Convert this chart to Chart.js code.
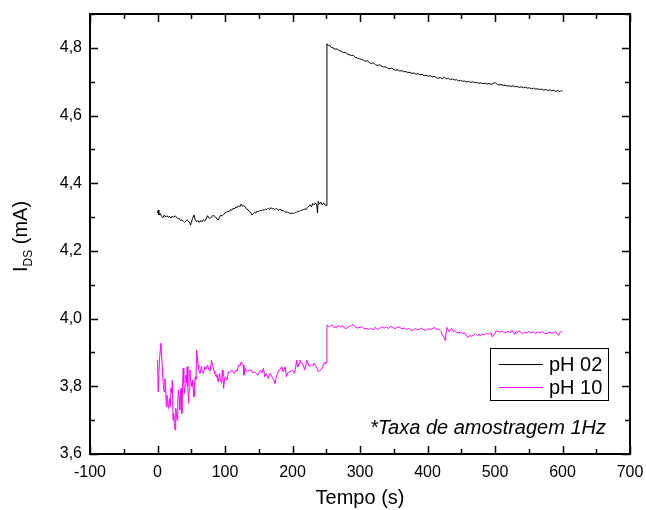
<!DOCTYPE html>
<html>
<head>
<meta charset="utf-8">
<script src="https://cdn.jsdelivr.net/npm/chart.js@4.4.1/dist/chart.umd.min.js"></script>
<style>
html,body{margin:0;padding:0;background:#fff;}
canvas{display:block;}
</style>
</head>
<body>
<canvas id="c" width="646" height="510"></canvas>
<script>
// ---- data (time in s, current in mA) ----
const seriesNames = ['pH 02', 'pH 10'];
const timePH02 = [0,1,2,4,6,8,10,12,14,16,18,20,22,24,26,28,30,32,34,36,38,40,42,44,46,48,49,50,52,54,56,58,60,62,64,66,68,70,72,74,76,78,80,82,84,86,88,90,92,94,96,98,100,102,104,106,108,110,112,114,116,118,120,122,124,126,128,130,132,134,136,138,140,142,144,146,148,150,152,154,156,158,160,162,164,166,168,170,172,174,176,178,180,182,184,186,188,190,192,194,196,198,200,202,204,206,208,210,212,214,216,218,220,222,224,226,228,230,232,234,236,237,238,240,242,244,246,248,250,251,253,255,257,260,263,266,269,272,275,278,281,284,287,290,293,296,299,302,305,308,311,314,317,320,323,326,329,332,335,338,341,344,347,350,353,356,359,362,365,368,371,374,377,380,383,386,389,392,395,398,401,404,407,410,413,416,419,422,425,428,431,434,437,440,443,446,449,452,455,458,461,464,467,470,473,476,479,482,485,488,491,494,497,500,503,506,509,512,515,518,521,524,527,530,533,536,539,542,545,548,551,554,557,560,563,566,569,572,575,578,581,584,587,590,593,596,598,600];
const currentPH02 = [4.312,4.320,4.306,4.310,4.302,4.298,4.306,4.300,4.304,4.300,4.302,4.297,4.303,4.299,4.304,4.300,4.296,4.296,4.290,4.292,4.288,4.284,4.288,4.292,4.288,4.282,4.276,4.284,4.296,4.306,4.292,4.286,4.290,4.284,4.290,4.286,4.292,4.288,4.294,4.304,4.298,4.296,4.300,4.305,4.303,4.300,4.294,4.292,4.300,4.306,4.304,4.308,4.312,4.314,4.318,4.316,4.322,4.320,4.326,4.324,4.330,4.328,4.334,4.330,4.338,4.332,4.334,4.330,4.324,4.322,4.316,4.314,4.306,4.310,4.314,4.312,4.318,4.316,4.320,4.318,4.322,4.320,4.324,4.322,4.326,4.322,4.328,4.324,4.326,4.322,4.326,4.322,4.320,4.324,4.318,4.320,4.316,4.314,4.316,4.312,4.312,4.310,4.312,4.310,4.314,4.314,4.318,4.316,4.320,4.320,4.322,4.324,4.322,4.328,4.332,4.336,4.330,4.340,4.336,4.342,4.336,4.312,4.346,4.338,4.344,4.336,4.342,4.336,4.334,4.812,4.806,4.808,4.802,4.800,4.796,4.797,4.792,4.790,4.786,4.787,4.782,4.780,4.777,4.778,4.772,4.770,4.768,4.766,4.764,4.760,4.762,4.756,4.754,4.756,4.750,4.748,4.750,4.746,4.743,4.744,4.740,4.738,4.740,4.736,4.734,4.735,4.731,4.733,4.729,4.730,4.727,4.728,4.724,4.726,4.722,4.724,4.720,4.722,4.718,4.719,4.716,4.718,4.714,4.716,4.712,4.710,4.712,4.709,4.714,4.708,4.710,4.706,4.708,4.705,4.706,4.702,4.704,4.701,4.702,4.699,4.701,4.698,4.700,4.697,4.698,4.695,4.697,4.694,4.696,4.693,4.695,4.692,4.694,4.698,4.692,4.690,4.692,4.689,4.690,4.687,4.688,4.686,4.688,4.685,4.686,4.683,4.685,4.682,4.684,4.681,4.682,4.679,4.681,4.678,4.679,4.677,4.678,4.675,4.677,4.674,4.676,4.673,4.675,4.671,4.674,4.670,4.674,4.672];
const timePH10 = [0,1,3,5,7,9,10,11,12,13,14,15,16,17,18,19,20,21,22,23,24,25,26,27,28,29,30,31,32,33,34,35,36,37,38,39,40,41,42,43,44,45,46,47,48,49,50,51,52,53,54,55,56,57,58,59,60,61,63,65,66,68,70,72,74,76,78,80,82,84,85,87,88,90,92,93,95,96,97,98,99,100,102,103,105,107,110,112,114,116,118,120,122,124,126,127,128,130,132,134,136,139,141,144,146,149,151,153,155,157,159,161,163,164,166,167,169,171,173,174,175,176,178,180,182,184,186,188,189,191,193,196,198,200,202,203,205,206,207,208,210,211,213,215,217,218,220,221,223,225,227,228,230,232,234,235,237,238,240,242,244,245,247,248,249,250,251,253,255,257,259,261,263,265,267,270,272,274,277,280,283,286,288,290,293,296,300,303,306,310,313,316,319,322,326,329,332,336,339,342,345,349,352,355,359,362,365,369,372,375,378,382,385,388,391,395,398,401,405,408,411,413,416,418,420,422,424,426,427,429,431,432,434,436,438,441,443,446,449,452,455,457,460,462,465,468,471,474,477,478,481,484,488,491,494,496,498,500,502,505,508,511,514,517,520,523,525,527,529,531,533,535,538,541,544,547,550,553,557,560,563,567,570,574,577,580,584,587,590,592,594,596,598,600];
const currentPH10 = [3.877,3.784,3.880,3.927,3.860,3.790,3.784,3.823,3.800,3.740,3.774,3.760,3.735,3.750,3.764,3.740,3.794,3.780,3.818,3.700,3.720,3.690,3.671,3.735,3.720,3.700,3.760,3.789,3.770,3.730,3.780,3.794,3.720,3.790,3.853,3.810,3.779,3.800,3.833,3.810,3.858,3.800,3.750,3.790,3.848,3.820,3.809,3.800,3.818,3.790,3.769,3.810,3.828,3.820,3.907,3.890,3.863,3.850,3.838,3.858,3.845,3.838,3.858,3.850,3.863,3.848,3.845,3.877,3.858,3.845,3.838,3.828,3.835,3.813,3.838,3.820,3.809,3.848,3.830,3.794,3.815,3.828,3.825,3.818,3.843,3.840,3.848,3.842,3.838,3.848,3.845,3.863,3.860,3.872,3.865,3.863,3.833,3.853,3.845,3.843,3.848,3.848,3.840,3.843,3.838,3.833,3.842,3.848,3.840,3.853,3.828,3.838,3.830,3.823,3.835,3.838,3.830,3.823,3.815,3.809,3.818,3.828,3.838,3.848,3.850,3.858,3.843,3.850,3.858,3.828,3.840,3.843,3.845,3.848,3.842,3.838,3.860,3.877,3.865,3.858,3.868,3.877,3.870,3.868,3.855,3.848,3.865,3.877,3.868,3.858,3.862,3.863,3.860,3.868,3.862,3.858,3.850,3.843,3.846,3.848,3.855,3.863,3.866,3.872,3.868,3.870,3.981,3.978,3.976,3.980,3.981,3.974,3.976,3.972,3.978,3.978,3.974,3.980,3.972,3.971,3.976,3.978,3.982,3.981,3.976,3.972,3.974,3.976,3.970,3.971,3.968,3.972,3.966,3.974,3.968,3.971,3.976,3.972,3.976,3.970,3.977,3.974,3.970,3.975,3.974,3.970,3.972,3.968,3.971,3.966,3.966,3.970,3.967,3.968,3.972,3.966,3.966,3.970,3.968,3.971,3.974,3.968,3.970,3.966,3.962,3.951,3.946,3.936,3.950,3.974,3.966,3.961,3.968,3.971,3.962,3.964,3.960,3.958,3.960,3.956,3.958,3.952,3.944,3.950,3.948,3.951,3.956,3.950,3.954,3.948,3.955,3.952,3.956,3.954,3.958,3.946,3.951,3.956,3.964,3.962,3.960,3.963,3.958,3.960,3.962,3.958,3.966,3.960,3.953,3.962,3.958,3.964,3.960,3.956,3.960,3.958,3.962,3.958,3.961,3.956,3.960,3.958,3.962,3.956,3.956,3.960,3.957,3.958,3.962,3.954,3.951,3.958,3.962,3.961];
const xTickLabels = ['-100','0','100','200','300','400','500','600','700'];
const yTickLabels = ['3,6','3,8','4,0','4,2','4,4','4,6','4,8'];
const xTitle = 'Tempo (s)';
const yTitleMain = 'I', yTitleSub = 'DS', yTitleUnit = ' (mA)';
const noteText = '*Taxa de amostragem 1Hz';
const colors = ['#000000', '#ff00ff'];

const FONT = '"Liberation Sans", Arial, Helvetica, sans-serif';

function pts(t, v) { return t.map((x, i) => ({ x: x, y: v[i] })); }

const framePlugin = {
  id: 'frame',
  afterDatasetsDraw(chart) {
    const ctx = chart.ctx, a = chart.chartArea;
    const xs = chart.scales.x, ys = chart.scales.y;
    ctx.save();
    ctx.strokeStyle = '#000';
    // inward ticks
    ctx.lineWidth = 1.5;
    ctx.beginPath();
    xs.ticks.forEach(t => {
      const px = Math.round(xs.getPixelForValue(t.value)) + 0.5;
      const L = (Math.round(t.value) % 100 === 0) ? 8 : 5;
      ctx.moveTo(px, a.bottom); ctx.lineTo(px, a.bottom - L);
      ctx.moveTo(px, a.top); ctx.lineTo(px, a.top + L);
    });
    ys.ticks.forEach(t => {
      const py = Math.round(ys.getPixelForValue(t.value)) + 0.5;
      const L = (Math.round(t.value * 10) % 2 === 0) ? 8 : 5;
      ctx.moveTo(a.left, py); ctx.lineTo(a.left + L, py);
      ctx.moveTo(a.right, py); ctx.lineTo(a.right - L, py);
    });
    ctx.stroke();
    // frame
    ctx.lineWidth = 2;
    ctx.strokeRect(a.left, a.top, a.right - a.left, a.bottom - a.top);

    // legend
    ctx.lineWidth = 1;
    ctx.strokeRect(490.5, 348.5, 118, 52);
    ctx.font = '20px ' + FONT;
    ctx.textBaseline = 'middle';
    ctx.textAlign = 'left';
    const ly = [364, 387];
    seriesNames.forEach((n, i) => {
      ctx.strokeStyle = colors[i];
      ctx.lineWidth = 1;
      ctx.beginPath();
      ctx.moveTo(499, ly[i] + 0.5); ctx.lineTo(543, ly[i] + 0.5);
      ctx.stroke();
      ctx.fillStyle = '#000';
      ctx.fillText(n, 549, ly[i] + 1);
    });

    // note
    ctx.font = 'italic 20px ' + FONT;
    ctx.textAlign = 'right';
    ctx.textBaseline = 'alphabetic';
    ctx.fillStyle = '#000';
    ctx.fillText(noteText, 606, 434);

    // y title with subscript (rotated)
    ctx.translate(27, 272);
    ctx.rotate(-Math.PI / 2);
    ctx.textAlign = 'left';
    ctx.textBaseline = 'alphabetic';
    ctx.font = '20px ' + FONT;
    ctx.fillText(yTitleMain, 0, 0);
    let w = ctx.measureText(yTitleMain).width;
    ctx.font = '12px ' + FONT;
    ctx.fillText(yTitleSub, w, 5);
    w += ctx.measureText(yTitleSub).width;
    ctx.font = '20px ' + FONT;
    ctx.fillText(yTitleUnit, w, 0);
    ctx.restore();
  }
};

new Chart(document.getElementById('c'), {
  type: 'scatter',
  data: {
    datasets: [
      { label: seriesNames[0], data: pts(timePH02, currentPH02), showLine: true, borderColor: colors[0], backgroundColor: colors[0], borderWidth: 1, pointRadius: 0, tension: 0 },
      { label: seriesNames[1], data: pts(timePH10, currentPH10), showLine: true, borderColor: colors[1], backgroundColor: colors[1], borderWidth: 1, pointRadius: 0, tension: 0 }
    ]
  },
  options: {
    responsive: false,
    animation: false,
    events: [],
    layout: { padding: { top: 14, right: 16, left: 0, bottom: 0 } },
    plugins: { legend: { display: false }, tooltip: { enabled: false } },
    scales: {
      x: {
        type: 'linear', min: -100, max: 700,
        border: { display: false },
        grid: { display: false, drawTicks: false },
        ticks: {
          stepSize: 50, autoSkip: false, maxRotation: 0, padding: 9,
          color: '#000', font: { family: FONT, size: 16 },
          callback: v => { const s = String(Math.round(v)); return xTickLabels.includes(s) ? s : ''; }
        },
        title: { display: true, text: xTitle, color: '#000', font: { family: FONT, size: 20 }, padding: 0 },
        afterFit: s => { s.height = 56; s.paddingLeft = 0; s.paddingRight = 0; s.paddingTop = 0; s.paddingBottom = 0; }
      },
      y: {
        type: 'linear', min: 3.6, max: 4.9,
        border: { display: false },
        grid: { display: false, drawTicks: false },
        ticks: {
          stepSize: 0.1, autoSkip: false, padding: 8,
          color: '#000', font: { family: FONT, size: 16 },
          callback: v => { const s = (Math.round(v * 10) / 10).toFixed(1).replace('.', ','); return yTickLabels.includes(s) ? s : ''; }
        },
        afterFit: s => { s.width = 90; s.paddingLeft = 0; s.paddingRight = 0; s.paddingTop = 0; s.paddingBottom = 0; }
      }
    }
  },
  plugins: [framePlugin]
});
</script>
</body>
</html>
